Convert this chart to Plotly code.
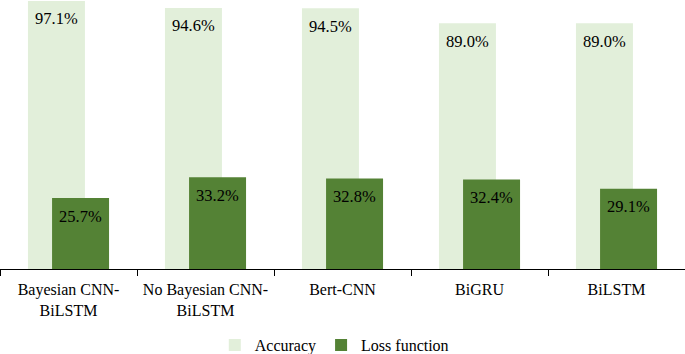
import plotly.graph_objects as go

categories = ["Bayesian CNN-<br>BiLSTM", "No Bayesian CNN-<br>BiLSTM", "Bert-CNN", "BiGRU", "BiLSTM"]
accuracy = [97.1, 94.6, 94.5, 89.0, 89.0]
loss = [25.7, 33.2, 32.8, 32.4, 29.1]

ACC_COLOR = "#E2EFDA"
LOSS_COLOR = "#548235"
FONT = "Liberation Serif"

W = 0.416
ACC_OFF = -0.296
LOSS_OFF = -0.12

fig = go.Figure()
fig.add_trace(go.Bar(name="Accuracy", x=categories, y=accuracy, width=W, offset=ACC_OFF,
                     marker=dict(color=ACC_COLOR, line=dict(width=0))))
fig.add_trace(go.Bar(name="Loss function", x=categories, y=loss, width=W, offset=LOSS_OFF,
                     marker=dict(color=LOSS_COLOR, line=dict(width=0))))

annotations = []
for i, (a, l) in enumerate(zip(accuracy, loss)):
    annotations.append(dict(x=i + ACC_OFF + W / 2, y=a, xref="x", yref="y", text=f"{a:.1f}%",
                            showarrow=False, yanchor="middle", yshift=-18,
                            font=dict(family=FONT, size=16.5, color="#000000")))
    annotations.append(dict(x=i + LOSS_OFF + W / 2, y=l, xref="x", yref="y", text=f"{l:.1f}%",
                            showarrow=False, yanchor="middle", yshift=-18,
                            font=dict(family=FONT, size=16.5, color="#000000")))

fig.update_layout(
    width=685, height=354,
    margin=dict(l=0, r=0, t=0, b=85, autoexpand=False),
    barmode="overlay",
    paper_bgcolor="white", plot_bgcolor="white",
    font=dict(family=FONT, size=16, color="#000000"),
    showlegend=True,
    legend=dict(orientation="h", x=0.488, xanchor="center", y=-0.283, yanchor="middle",
                font=dict(family=FONT, size=16, color="#000000"), itemwidth=30,
                traceorder="normal"),
    annotations=annotations,
    xaxis=dict(type="category", range=[-0.5, 4.5], showline=True, linecolor="#000000", linewidth=1,
               ticks="outside", tickson="boundaries", ticklen=6, tickcolor="#000000",
               ticklabelstandoff=6,
               showgrid=False, zeroline=False, automargin=False,
               tickfont=dict(family=FONT, size=16, color="#000000")),
    yaxis=dict(range=[0, 97.46], visible=False, showgrid=False, zeroline=False, automargin=False),
)

fig.write_html("out.html", config={"displayModeBar": False},
               post_script="document.body.style.margin='0';")
